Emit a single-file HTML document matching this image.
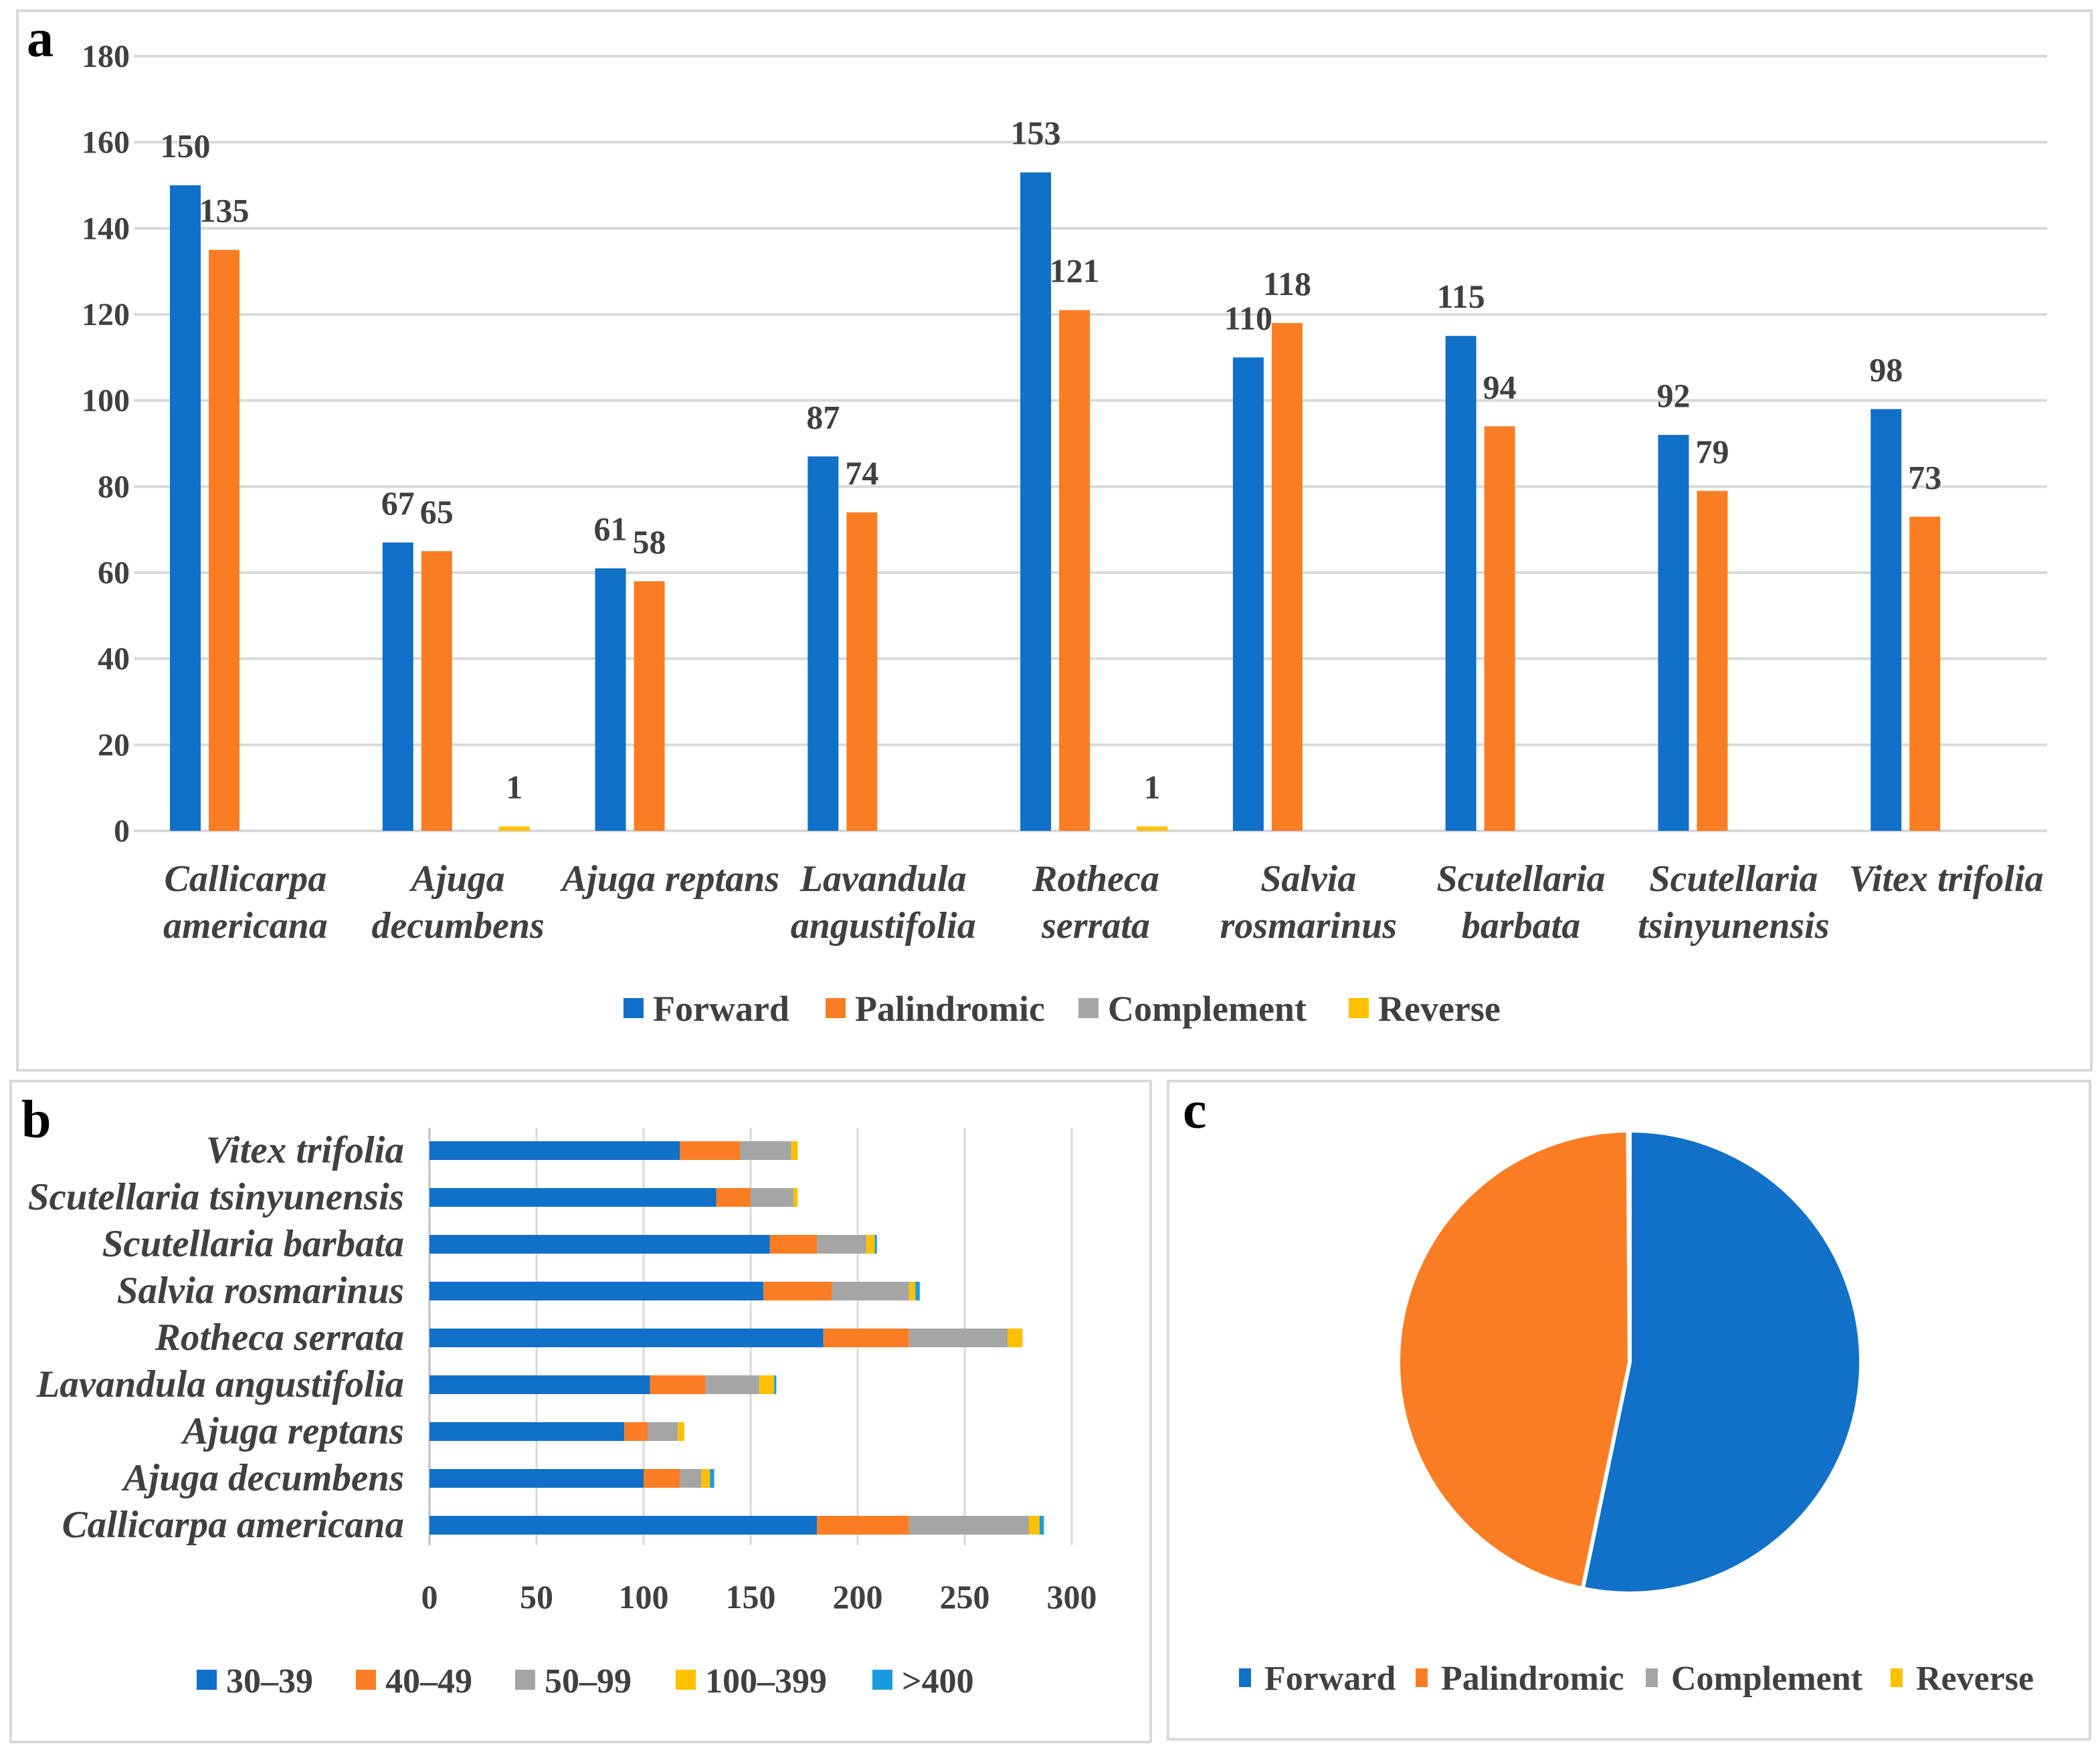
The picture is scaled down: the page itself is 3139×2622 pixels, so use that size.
<!DOCTYPE html>
<html><head><meta charset="utf-8"><style>
html,body{margin:0;padding:0;background:#fff}
svg{display:block}
text{font-family:"Liberation Serif",serif;fill:#404040;font-weight:bold}
</style></head><body>
<svg width="3139" height="2622" viewBox="0 0 1569.5 1311" xmlns="http://www.w3.org/2000/svg">
<rect x="13" y="8" width="1550" height="792" fill="#fff" stroke="#d9d9d9" stroke-width="2"/>
<rect x="8" y="808" width="852" height="494" fill="#fff" stroke="#d9d9d9" stroke-width="2"/>
<rect x="873" y="808" width="689" height="492" fill="#fff" stroke="#d9d9d9" stroke-width="2"/>
<text x="20" y="42" font-size="40" style="fill:#000">a</text>
<text x="16" y="850" font-size="40" style="fill:#000">b</text>
<text x="884" y="843" font-size="40" style="fill:#000">c</text>
<g id="ga"></g><g id="gb"></g><g id="gc"></g>
</svg>
<script>
const NS='http://www.w3.org/2000/svg';
const species=['Callicarpa americana','Ajuga decumbens','Ajuga reptans','Lavandula angustifolia','Rotheca serrata','Salvia rosmarinus','Scutellaria barbata','Scutellaria tsinyunensis','Vitex trifolia'];
const catLines=[['Callicarpa','americana'],['Ajuga','decumbens'],['Ajuga reptans'],['Lavandula','angustifolia'],['Rotheca','serrata'],['Salvia','rosmarinus'],['Scutellaria','barbata'],['Scutellaria','tsinyunensis'],['Vitex trifolia']];
const seriesNames=['Forward','Palindromic','Complement','Reverse'];
const forward=[150,67,61,87,153,110,115,92,98];
const palindromic=[135,65,58,74,121,118,94,79,73];
const complement=[0,0,0,0,0,0,0,0,0];
const reverse=[0,1,0,0,1,0,0,0,0];
const yTicksA=[0,20,40,60,80,100,120,140,160,180];
const rangeNames=['30–39','40–49','50–99','100–399','>400'];
const r30=[181,100,91,103,184,156,159,134,117];
const r40=[43,17,11,26,40,32,22,16,28];
const r50=[56,10,14,25,46,36,23,20,24];
const r100=[5,4,3,7,7,3,4,2,3];
const r400=[2,2,0,1,0,2,1,0,0];
const xTicksB=[0,50,100,150,200,250,300];
const pieValues=[933,817,0,2];
const COL=['#1170c8','#fb7d23','#a5a5a5','#ffc000','#1a9be0'];
function el(tag,attrs,parent,txt){const e=document.createElementNS(NS,tag);for(const k in attrs)e.setAttribute(k,attrs[k]);if(txt!==undefined)e.textContent=txt;parent.appendChild(e);return e;}
// Panel A
const ga=document.getElementById('ga');
const ax0=100,ax1=1530,ay0=621,ay1=42;
const yA=v=>ay0-(v/180)*(ay0-ay1);
const gw=(ax1-ax0)/species.length;
yTicksA.forEach(t=>{
 const l=el('line',{x1:ax0,x2:ax1,y1:yA(t),y2:yA(t),stroke:'#d9d9d9','stroke-width':2},ga);
 
 const tx=el('text',{x:97,y:yA(t)+8,'text-anchor':'end','font-size':24},ga,t);
 
});
const allS=[forward,palindromic,complement,reverse];
species.forEach((s,i)=>{
 allS.forEach((arr,k)=>{
  const v=arr[i];if(v<=0)return;
  const x=ax0+i*gw+27+k*29;
  const r=el('rect',{x:x,y:yA(v),width:23,height:Math.max(ay0-yA(v),2),fill:COL[k]},ga);
  
  const lab=el('text',{x:x+11.5,y:Math.min(yA(v),ay0-2)-21,'text-anchor':'middle','font-size':25},ga,v);
  
 });
 const cx=ax0+i*gw+gw/2+4;
 catLines[i].forEach((ln,j)=>{
  const t=el('text',{x:cx,y:666+j*35,'text-anchor':'middle','font-size':28,'font-style':'italic','font-weight':'normal'},ga,ln);
  
 });
});
const legAX=[466,617,806,1008];
seriesNames.forEach((n,k)=>{
 const r=el('rect',{x:legAX[k],y:746,width:15,height:15,fill:COL[k]},ga);
 
 const t=el('text',{x:legAX[k]+22,y:763,'font-size':27},ga,n);
 
});
// Panel B
const gb=document.getElementById('gb');
const bx0=321,bpx=1.6;const xB=v=>bx0+v*bpx;
xTicksB.forEach(t=>{
 if(t>0){const l=el('line',{x1:xB(t),x2:xB(t),y1:843,y2:1155,stroke:'#d9d9d9','stroke-width':1.5},gb);
 }
 const tx=el('text',{x:xB(t),y:1202,'text-anchor':'middle','font-size':25},gb,t);
 
});
const ax=el('line',{x1:bx0,x2:bx0,y1:843,y2:1155,stroke:'#bfbfbf','stroke-width':1.5},gb);

const rs=[r30,r40,r50,r100,r400];
species.forEach((s,i)=>{
 const cy=1140-i*35;
 let acc=0;
 rs.forEach((arr,k)=>{
  const v=arr[i];if(v<=0)return;
  const r=el('rect',{x:xB(acc),y:cy-7,width:v*bpx,height:14,fill:COL[k]},gb);
  
  acc+=v;
 });
 const t=el('text',{x:302,y:cy+9,'text-anchor':'end','font-size':28.5,'font-style':'italic','font-weight':'normal'},gb,s);
 
});
const legBX=[147,266,385,505,652];
rangeNames.forEach((n,k)=>{
 const r=el('rect',{x:legBX[k],y:1248,width:15,height:15,fill:COL[k]},gb);
 
 const t=el('text',{x:legBX[k]+22,y:1265,'font-size':26},gb,n);
 
});
// Panel C
const gc=document.getElementById('gc');
const pcx=1218,pcy=1018,pr=173;
const tot=pieValues.reduce((a,b)=>a+b,0);
let ang=0;
pieValues.forEach((v,k)=>{
 if(v<=0)return;
 const a0=ang,a1=ang+v/tot*2*Math.PI;ang=a1;
 const p=(a)=>[pcx+pr*Math.sin(a),pcy-pr*Math.cos(a)];
 const [x0,y0]=p(a0),[x1,y1]=p(a1);
 const d=`M${pcx},${pcy} L${x0},${y0} A${pr},${pr} 0 ${a1-a0>Math.PI?1:0} 1 ${x1},${y1} Z`;
 const s=el('path',{d:d,fill:COL[k],stroke:'#fff','stroke-width':3},gc);
 
});
const legCX=[926,1058,1230,1413];
seriesNames.forEach((n,k)=>{
 const r=el('rect',{x:legCX[k],y:1247,width:9,height:14,fill:COL[k]},gc);
 
 const t=el('text',{x:legCX[k]+19,y:1263,'font-size':26},gc,n);
 
});
</script>
</body></html>
